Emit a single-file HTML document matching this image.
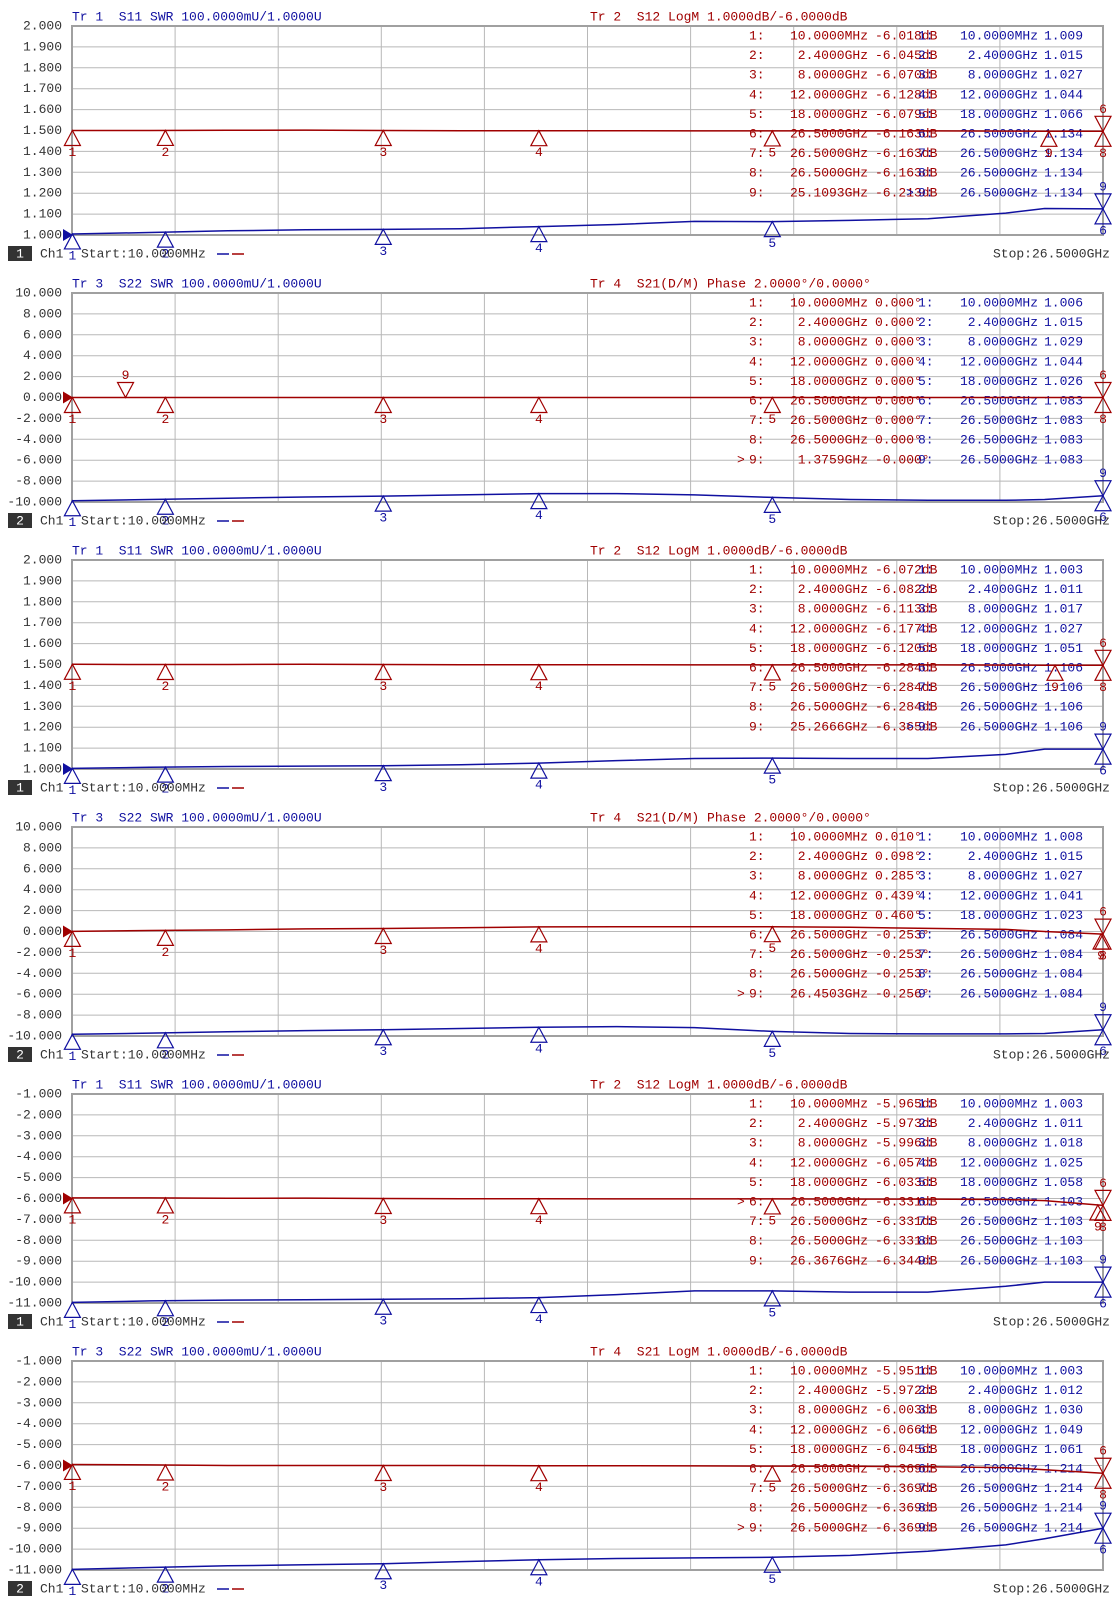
<!DOCTYPE html>
<html><head><meta charset="utf-8"><style>
html,body{margin:0;padding:0;background:#fff;}
svg{display:block;font-family:"Liberation Mono",monospace;}
text{white-space:pre;}
</style></head><body>
<svg id="c" width="1119" height="1609" viewBox="0 0 1119 1609" xmlns="http://www.w3.org/2000/svg"></svg>
<script>
// ---- data ----
const freqs = [0.01,2,4,6,8,10,12,14,16,18,20,22,24,25,26.5];
const blue1 = [1.005,1.012,1.020,1.025,1.027,1.030,1.040,1.050,1.065,1.064,1.070,1.078,1.105,1.127,1.125];
const red1  = [-6.00,-6.00,-5.99,-5.98,-6.00,-6.01,-6.01,-6.01,-6.02,-6.02,-6.02,-6.02,-6.03,-6.04,-6.04];
const blue2 = [1.006,1.012,1.018,1.024,1.028,1.034,1.040,1.040,1.034,1.022,1.012,1.008,1.008,1.012,1.030];
const red2  = [0,0,0,0,0,0,0,0,0,0,0,0,0,0,0];
const blue3 = [1.003,1.008,1.012,1.014,1.016,1.020,1.028,1.040,1.050,1.052,1.050,1.050,1.070,1.095,1.095];
const red3  = [-5.99,-6.00,-6.00,-5.99,-6.00,-6.01,-6.01,-6.01,-6.02,-6.02,-6.02,-6.02,-6.03,-6.04,-6.04];
const blue4 = [1.008,1.014,1.020,1.026,1.030,1.036,1.042,1.045,1.040,1.022,1.012,1.010,1.010,1.012,1.030];
const red4  = [0.01,0.10,0.15,0.25,0.29,0.35,0.44,0.45,0.46,0.46,0.40,0.30,0.20,0.00,-0.25];
const blue5 = [1.003,1.010,1.014,1.016,1.018,1.020,1.026,1.040,1.058,1.058,1.052,1.052,1.080,1.100,1.100];
const red5  = [-5.97,-5.97,-5.99,-5.98,-6.00,-6.01,-6.01,-6.02,-6.02,-6.02,-6.03,-6.03,-6.05,-6.10,-6.33];
const blue6 = [1.003,1.012,1.020,1.025,1.030,1.040,1.049,1.055,1.058,1.061,1.070,1.090,1.120,1.150,1.200];
const red6  = [-5.95,-5.97,-6.00,-6.00,-6.00,-6.00,-6.01,-6.01,-6.02,-6.03,-6.04,-6.06,-6.10,-6.20,-6.37];
const markerFreqs = [0.01,2.4,8,12,18,26.5,26.5,26.5];
const yTicks12 = ["2.000","1.900","1.800","1.700","1.600","1.500","1.400","1.300","1.200","1.100","1.000"];
const yTicksPh = ["10.000","8.000","6.000","4.000","2.000","0.000","-2.000","-4.000","-6.000","-8.000","-10.000"];
const yTicksDb = ["-1.000","-2.000","-3.000","-4.000","-5.000","-6.000","-7.000","-8.000","-9.000","-10.000","-11.000"];
const redF1 = ["10.0000MHz","2.4000GHz","8.0000GHz","12.0000GHz","18.0000GHz","26.5000GHz","26.5000GHz","26.5000GHz","25.1093GHz"];
const redV1 = ["-6.018dB","-6.045dB","-6.070dB","-6.128dB","-6.079dB","-6.163dB","-6.163dB","-6.163dB","-6.213dB"];
const bluV1 = ["1.009","1.015","1.027","1.044","1.066","1.134","1.134","1.134","1.134"];
const redF2 = ["10.0000MHz","2.4000GHz","8.0000GHz","12.0000GHz","18.0000GHz","26.5000GHz","26.5000GHz","26.5000GHz","1.3759GHz"];
const redV2 = ["0.000°","0.000°","0.000°","0.000°","0.000°","0.000°","0.000°","0.000°","-0.000°"];
const bluV2 = ["1.006","1.015","1.029","1.044","1.026","1.083","1.083","1.083","1.083"];
const redF3 = ["10.0000MHz","2.4000GHz","8.0000GHz","12.0000GHz","18.0000GHz","26.5000GHz","26.5000GHz","26.5000GHz","25.2666GHz"];
const redV3 = ["-6.072dB","-6.082dB","-6.113dB","-6.177dB","-6.120dB","-6.284dB","-6.284dB","-6.284dB","-6.365dB"];
const bluV3 = ["1.003","1.011","1.017","1.027","1.051","1.106","1.106","1.106","1.106"];
const redF4 = ["10.0000MHz","2.4000GHz","8.0000GHz","12.0000GHz","18.0000GHz","26.5000GHz","26.5000GHz","26.5000GHz","26.4503GHz"];
const redV4 = ["0.010°","0.098°","0.285°","0.439°","0.460°","-0.253°","-0.253°","-0.253°","-0.256°"];
const bluV4 = ["1.008","1.015","1.027","1.041","1.023","1.084","1.084","1.084","1.084"];
const redF5 = ["10.0000MHz","2.4000GHz","8.0000GHz","12.0000GHz","18.0000GHz","26.5000GHz","26.5000GHz","26.5000GHz","26.3676GHz"];
const redV5 = ["-5.965dB","-5.973dB","-5.996dB","-6.057dB","-6.033dB","-6.331dB","-6.331dB","-6.331dB","-6.344dB"];
const bluV5 = ["1.003","1.011","1.018","1.025","1.058","1.103","1.103","1.103","1.103"];
const redF6 = ["10.0000MHz","2.4000GHz","8.0000GHz","12.0000GHz","18.0000GHz","26.5000GHz","26.5000GHz","26.5000GHz","26.5000GHz"];
const redV6 = ["-5.951dB","-5.972dB","-6.003dB","-6.066dB","-6.045dB","-6.369dB","-6.369dB","-6.369dB","-6.369dB"];
const bluV6 = ["1.003","1.012","1.030","1.049","1.061","1.214","1.214","1.214","1.214"];
const red9Freqs = [25.1093,1.3759,25.2666,26.4503,26.3676,26.5];

const panels = [
 {blue:blue1,red:red1,ticks:yTicks12,perDiv:1,lt:"Tr 1  S11 SWR 100.0000mU/1.0000U",rt:"Tr 2  S12 LogM 1.0000dB/-6.0000dB",rf:redF1,rv:redV1,bv:bluV1,act:"b",box:"1",refBlue:true},
 {blue:blue2,red:red2,ticks:yTicksPh,perDiv:2,lt:"Tr 3  S22 SWR 100.0000mU/1.0000U",rt:"Tr 4  S21(D/M) Phase 2.0000°/0.0000°",rf:redF2,rv:redV2,bv:bluV2,act:"r",box:"2",down9:true},
 {blue:blue3,red:red3,ticks:yTicks12,perDiv:1,lt:"Tr 1  S11 SWR 100.0000mU/1.0000U",rt:"Tr 2  S12 LogM 1.0000dB/-6.0000dB",rf:redF3,rv:redV3,bv:bluV3,act:"b",box:"1",refBlue:true},
 {blue:blue4,red:red4,ticks:yTicksPh,perDiv:2,lt:"Tr 3  S22 SWR 100.0000mU/1.0000U",rt:"Tr 4  S21(D/M) Phase 2.0000°/0.0000°",rf:redF4,rv:redV4,bv:bluV4,act:"r",box:"2"},
 {blue:blue5,red:red5,ticks:yTicksDb,perDiv:1,lt:"Tr 1  S11 SWR 100.0000mU/1.0000U",rt:"Tr 2  S12 LogM 1.0000dB/-6.0000dB",rf:redF5,rv:redV5,bv:bluV5,act:"r6",box:"1"},
 {blue:blue6,red:red6,ticks:yTicksDb,perDiv:1,lt:"Tr 3  S22 SWR 100.0000mU/1.0000U",rt:"Tr 4  S21 LogM 1.0000dB/-6.0000dB",rf:redF6,rv:redV6,bv:bluV6,act:"r",box:"2"}
];
const redRefs = [-6,0,-6,0,-6,-6];

// ---- drawing ----
const NS="http://www.w3.org/2000/svg";
const svg=document.getElementById('c');
const BLUE="#1010a0", RED="#a00000", GRID="#b8b8b8", TXT="#333";
const X0=72, X1=1103, PH=209, FMAX=26.5;
function el(tag,attrs,parent){const e=document.createElementNS(NS,tag);for(const k in attrs)e.setAttribute(k,attrs[k]);(parent||svg).appendChild(e);return e;}
function txt(s,x,y,fill,anchor,parent){const t=el('text',{x:x,y:y,fill:fill,'font-size':13,'text-anchor':anchor||'start','dominant-baseline':'central',style:'white-space:pre'},parent);t.textContent=s;return t;}
function xs(f){return X0+f/FMAX*(X1-X0);}
function interp(arr,f){for(let i=0;i<freqs.length-1;i++){if(f<=freqs[i+1]){const t=(f-freqs[i])/(freqs[i+1]-freqs[i]);return arr[i]+t*(arr[i+1]-arr[i]);}}return arr[arr.length-1];}
function tri(g,x,y,color,up,label){
  const p = up ? `${x},${y} ${x-8},${y+15} ${x+8},${y+15}` : `${x},${y} ${x-8},${y-15} ${x+8},${y-15}`;
  const t=el('polygon',{points:p,fill:'none',stroke:color,'stroke-width':1.2},g);
  
  
  const ly = up ? y+22 : y-22;
  const l=txt(label,x,ly,color,'middle',g);
  
  
}

panels.forEach((p,i)=>{
  const top=26+i*267, bot=top+PH, rowH=PH/10, mid=top+PH/2;
  const g=el('g',{});
  
  
  const by=v=>bot-(v-1)/0.1*rowH;
  const ry=v=>mid-(v-redRefs[i])/p.perDiv*rowH;
  for(let k=1;k<10;k++){
    const gl=el('line',{x1:X0,x2:X1,y1:top+k*rowH,y2:top+k*rowH,stroke:GRID,'stroke-width':1},g);
    
    
    const gv=el('line',{y1:top,y2:bot,x1:X0+k*(X1-X0)/10,x2:X0+k*(X1-X0)/10,stroke:GRID,'stroke-width':1},g);
    
    
  }
  const fr=el('rect',{x:X0,y:top,width:X1-X0,height:PH,fill:'none',stroke:'#a0a0a0','stroke-width':2},g);
  
  
  p.ticks.forEach((s,k)=>{const t=txt(s,62,top+k*rowH,TXT,'end',g);
    
    });
  const t1=txt(p.lt,72,top-9,BLUE,'start',g);
  
  
  const t2=txt(p.rt,590,top-9,RED,'start',g);
  
  
  for(let r=0;r<9;r++){
    const yy=top+10+r*19.6;
    const lab=(r+1)+":";
    let a=txt(lab,749,yy,RED,'start',g);
    
    
    if((p.act==='r'&&r===8)||(p.act==='r6'&&r===5)){let q=txt(">",737,yy,RED,'start',g);}
    a=txt(p.rf[r],868,yy,RED,'end',g);
    
    
    a=txt(p.rv[r],875,yy,RED,'start',g);
    
    
    a=txt(lab,918,yy,BLUE,'start',g);
    
    
    if(p.act==='b'&&r===8){let q=txt(">",906,yy,BLUE,'start',g);}
    a=txt(r===8?"26.5000GHz":p.rf[r],1038,yy,BLUE,'end',g);
    
    
    a=txt(p.bv[r],1044,yy,BLUE,'start',g);
    
    
  }
  const rp=freqs.map((f,k)=>xs(f).toFixed(1)+","+ry(p.red[k]).toFixed(1)).join(" ");
  const bp=freqs.map((f,k)=>xs(f).toFixed(1)+","+by(p.blue[k]).toFixed(1)).join(" ");
  const rl=el('polyline',{points:rp,fill:'none',stroke:RED,'stroke-width':1.5},g);
  
  
  const bl=el('polyline',{points:bp,fill:'none',stroke:BLUE,'stroke-width':1.5},g);
  
  
  const refY = p.refBlue ? bot : ry(redRefs[i]);
  const ra=el('polygon',{points:`${X0-9},${refY-6} ${X0+1},${refY} ${X0-9},${refY+6}`,fill:p.refBlue?BLUE:RED},g);
  
  
  for(let m=0;m<5;m++){
    const f=markerFreqs[m];
    tri(g,xs(f),ry(interp(p.red,f)),RED,true,String(m+1));
    tri(g,xs(f),by(interp(p.blue,f)),BLUE,true,String(m+1));
  }
  const fe=FMAX;
  const yr=ry(interp(p.red,fe)), yb=by(interp(p.blue,fe));
  tri(g,xs(fe),yr,RED,false,"6");
  tri(g,xs(fe),yr,RED,true,"8");
  tri(g,xs(fe),yb,BLUE,false,"9");
  tri(g,xs(fe),yb,BLUE,true,"6");
  const f9=red9Freqs[i];
  if(f9<26.5){ if(p.down9) tri(g,xs(f9),ry(interp(p.red,f9)),RED,false,"9"); else tri(g,xs(f9),ry(interp(p.red,f9)),RED,true,"9"); }
  const fy=bot+19;
  const bx=el('rect',{x:8,y:fy-8,width:24,height:15,fill:'#333'},g);
  
  
  let f1=txt(p.box,20,fy,'#fff','middle',g);
  
  
  f1=txt("Ch1",40,fy,TXT,'start',g);
  
  
  f1=txt("Start:10.0000MHz",81,fy,TXT,'start',g);
  
  
  const d1=el('line',{x1:217,x2:229,y1:fy,y2:fy,stroke:BLUE,'stroke-width':1.5},g);
  
  
  const d2=el('line',{x1:232,x2:244,y1:fy,y2:fy,stroke:RED,'stroke-width':1.5},g);
  
  
  f1=txt("Stop:26.5000GHz",1110,fy,TXT,'end',g);
  
  
});
</script>
</body></html>
